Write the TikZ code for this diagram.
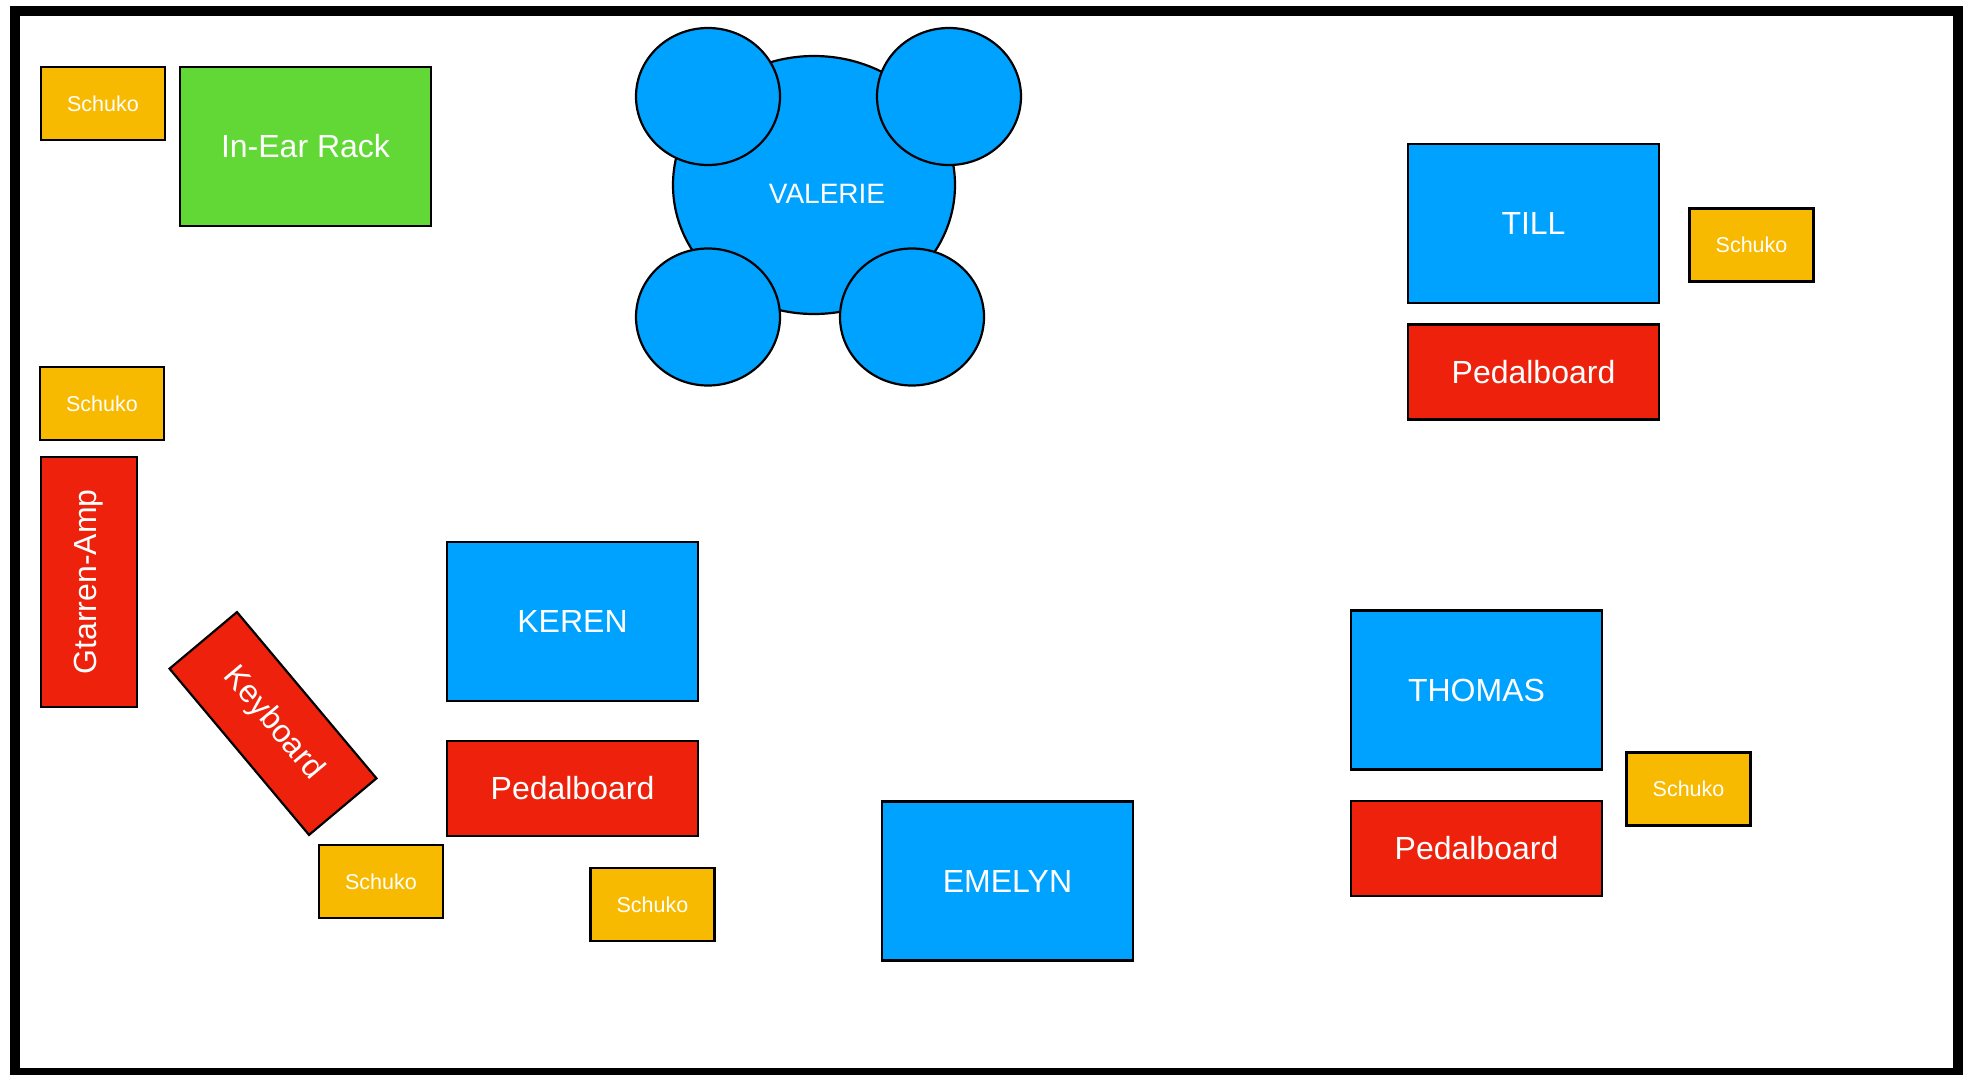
\documentclass[tikz,border=0pt]{standalone}
\usepackage{fontspec}
\setmainfont{Liberation Sans}
\usetikzlibrary{shapes.geometric}

\definecolor{stageblue}{HTML}{00A2FF}
\definecolor{stagered}{HTML}{EE220C}
\definecolor{stagegreen}{HTML}{61D836}
\definecolor{stageyellow}{HTML}{F8BA00}

\tikzset{
  item/.style={draw=black, line width=2.2pt, text=white, inner sep=0pt,
    font=\fontsize{32}{38}\selectfont},
  musician/.style={item, fill=stageblue, minimum width=251pt, minimum height=159pt},
  pedalboard/.style={item, fill=stagered, minimum width=251pt, minimum height=95pt},
  schuko/.style={item, fill=stageyellow, minimum width=124pt, minimum height=73pt,
    font=\fontsize{21.5}{26}\selectfont},
  chair/.style={ellipse, draw=black, line width=2.2pt, fill=stageblue,
    minimum width=144pt, minimum height=137pt, inner sep=0pt},
}

\begin{document}
\begin{tikzpicture}[x=1pt, y=-1pt]
    \useasboundingbox (0,0) rectangle (1968,1074);
    \draw[line width=10pt] (15,11) rectangle (1958,1073);

    % left wall
    \node[schuko] (schukoA) at (103,103.5) {Schuko};
    \node[item, fill=stagegreen, minimum width=251pt, minimum height=159pt] (inear) at (305.5,146.5) {In-Ear Rack};
    \node[schuko] (schukoB) at (102,403.5) {Schuko};
    \node[item, fill=stagered, rotate=90, minimum width=250pt, minimum height=96pt] (amp) at (89,582) {Gtarren-Amp};
    \node[item, fill=stagered, rotate=-50, minimum width=217pt, minimum height=88pt] (keyboard) at (273,723.5) {Keyboard};
    \node[schuko] (schukoC) at (381,881.5) {Schuko};

    % keren
    \node[musician] (keren) at (572.5,621.5) {KEREN};
    \node[pedalboard] (pedalK) at (572.5,788.5) {Pedalboard};
    \node[schuko] (schukoD) at (652.5,904.5) {Schuko};

    % valerie
    \node[ellipse, draw=black, line width=2.2pt, fill=stageblue,
        minimum width=282pt, minimum height=258pt] (drums) at (814,185) {};
    \foreach \cx/\cy [count=\n] in {708/96.5, 949/96.5, 708/317, 912/317} {
        \node[chair] (chair\n) at (\cx,\cy) {};
    };
    \node[text=white, font=\fontsize{28}{34}\selectfont] (valerie) at (827,194) {VALERIE};

    % emelyn
    \node[musician] (emelyn) at (1007.5,881) {EMELYN};

    % till
    \node[musician] (till) at (1533.5,223.5) {TILL};
    \node[pedalboard] (pedalT) at (1533.5,372) {Pedalboard};
    \node[schuko] (schukoE) at (1751.5,245) {Schuko};

    % thomas
    \node[musician] (thomas) at (1476.5,690) {THOMAS};
    \node[pedalboard] (pedalH) at (1476.5,848.5) {Pedalboard};
    \node[schuko] (schukoF) at (1688.5,789) {Schuko};
\end{tikzpicture}
\end{document}
